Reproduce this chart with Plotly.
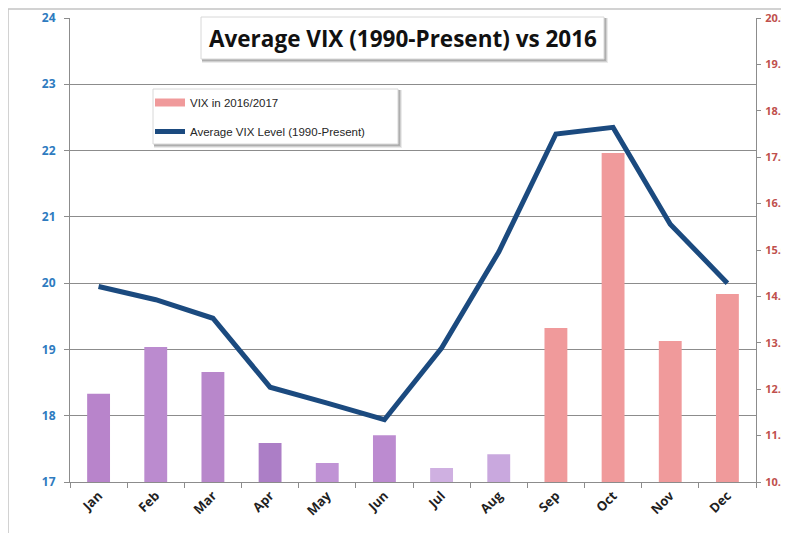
import plotly.graph_objects as go

# ---- data ----
months = ["Jan", "Feb", "Mar", "Apr", "May", "Jun", "Jul", "Aug", "Sep", "Oct", "Nov", "Dec"]
vix_2016_2017 = [11.90, 12.91, 12.37, 10.84, 10.41, 11.01, 10.30, 10.60, 13.32, 17.09, 13.04, 14.05]
avg_vix_1990_present = [19.95, 19.75, 19.47, 18.43, 18.19, 17.94, 19.02, 20.47, 22.25, 22.35, 20.89, 20.00]
left_ticks = [17, 18, 19, 20, 21, 22, 23, 24]
right_ticks = [10, 11, 12, 13, 14, 15, 16, 17, 18, 19, 20]
right_tick_labels = ["10.0", "11.0", "12.0", "13.0", "14.0", "15.0", "16.0", "17.0", "18.0", "19.0", "20.0"]

# ---- styles ----
bar_colors = ["#b884cb", "#bb8bcf", "#b887cb", "#ac7ec6", "#c093d5", "#bc8bd0",
              "#cfb0e1", "#c9a8de", "#f09a9b", "#f09a9b", "#f09a9b", "#f09a9b"]
LEGEND_BAR_COLOR = "#f09a9b"
LINE_COLOR = "#1b4a7f"
GRID = "#8c8c8c"
FONT = "Open Sans"

OFF = 8  # page offset of the figure (body margin)
W, H = 789 - OFF, 533 - OFF
# plot area in page pixels
PL, PR, PT, PB = 70, 756, 18, 482
L, R, T, B = PL - OFF, PR - OFF, PT - OFF, PB - OFF


def px(x):
    return (x - PL) / (PR - PL)


def py(y):
    return (PB - y) / (PB - PT)


fig = go.Figure()
fig.add_trace(go.Bar(
    x=months, y=vix_2016_2017, base=0, yaxis="y2",
    name="VIX in 2016/2017", showlegend=False,
    marker=dict(color=bar_colors, line=dict(width=0)),
    width=0.4,
))
# legend entry for the bars (wide rectangular swatch, as in the original)
fig.add_trace(go.Scatter(
    x=months, y=[None] * len(months), yaxis="y2",
    mode="lines", name="VIX in 2016/2017", legendgroup="a",
    line=dict(color=LEGEND_BAR_COLOR, width=8),
))
fig.add_trace(go.Scatter(
    x=months, y=avg_vix_1990_present, yaxis="y",
    mode="lines", name="Average VIX Level (1990-Present)", legendgroup="b",
    line=dict(color=LINE_COLOR, width=5),
))

shapes = []
# outer chart border
shapes.append(dict(type="rect", xref="paper", yref="paper",
                   x0=px(8), x1=px(800), y0=py(545), y1=py(9),
                   line=dict(color="#c4c4c4", width=1.5), fillcolor="rgba(0,0,0,0)", layer="below"))


def shadow_box(x0, y0, x1, y1):
    out = []
    for i, op in enumerate([0.10, 0.16, 0.22]):
        d = 4 - i
        out.append(dict(type="rect", xref="paper", yref="paper",
                        x0=px(x0 + 1), x1=px(x1 + d), y0=py(y1 + d), y1=py(y0 + 1),
                        line=dict(width=0), fillcolor=f"rgba(60,60,60,{op})", layer="above"))
    out.append(dict(type="rect", xref="paper", yref="paper",
                    x0=px(x0), x1=px(x1), y0=py(y1), y1=py(y0),
                    line=dict(color="#d8d8d8", width=1), fillcolor="white", layer="above"))
    return out


shapes += shadow_box(201, 17, 604, 59)
shapes += shadow_box(153, 89, 398, 144)

fig.update_layout(
    width=W, height=H,
    margin=dict(l=L, r=W - R, t=T, b=H - B, pad=0, autoexpand=False),
    paper_bgcolor="white", plot_bgcolor="white",
    bargap=0.6, barmode="overlay",
    showlegend=True,
    legend=dict(x=px(150), y=py(88), xanchor="left", yanchor="top",
                bgcolor="rgba(0,0,0,0)", borderwidth=0,
                font=dict(family="Liberation Sans, Arial", size=11.5, color="#262626"),
                traceorder="grouped", tracegroupgap=10, itemwidth=30),
    xaxis=dict(
        type="category", tickangle=-45, tickson="boundaries", automargin=False,
        ticks="outside", ticklen=5, tickcolor=GRID, showline=True, linecolor=GRID, linewidth=1,
        showgrid=False,
        tickfont=dict(family=FONT, size=13, color="#1f1f1f", weight="bold"),
    ),
    yaxis=dict(
        range=[17, 24], tickvals=left_ticks, ticktext=[str(v) for v in left_ticks],
        showgrid=True, gridcolor=GRID, gridwidth=1, automargin=False,
        showline=True, linecolor=GRID, linewidth=1,
        ticks="outside", ticklen=5, tickcolor=GRID,
        tickfont=dict(family=FONT, size=12, color="#2e7bbf", weight="bold"),
        zeroline=False, ticklabelstandoff=6,
    ),
    yaxis2=dict(
        range=[10, 20], tickvals=right_ticks, ticktext=right_tick_labels,
        overlaying="y", side="right", showgrid=False, automargin=False,
        showline=True, linecolor=GRID, linewidth=1,
        ticks="outside", ticklen=4, tickcolor=GRID,
        tickfont=dict(family=FONT, size=11, color="#c0504d", weight="bold"),
        zeroline=False, ticklabelstandoff=2,
    ),
    shapes=shapes,
    annotations=[dict(
        text="<b>Average VIX (1990-Present) vs 2016</b>",
        xref="paper", yref="paper", x=px(403), y=py(38),
        xanchor="center", yanchor="middle", showarrow=False,
        font=dict(family=FONT, size=22.5, color="#111111"),
    )],
)

fig.write_html("out.html")
